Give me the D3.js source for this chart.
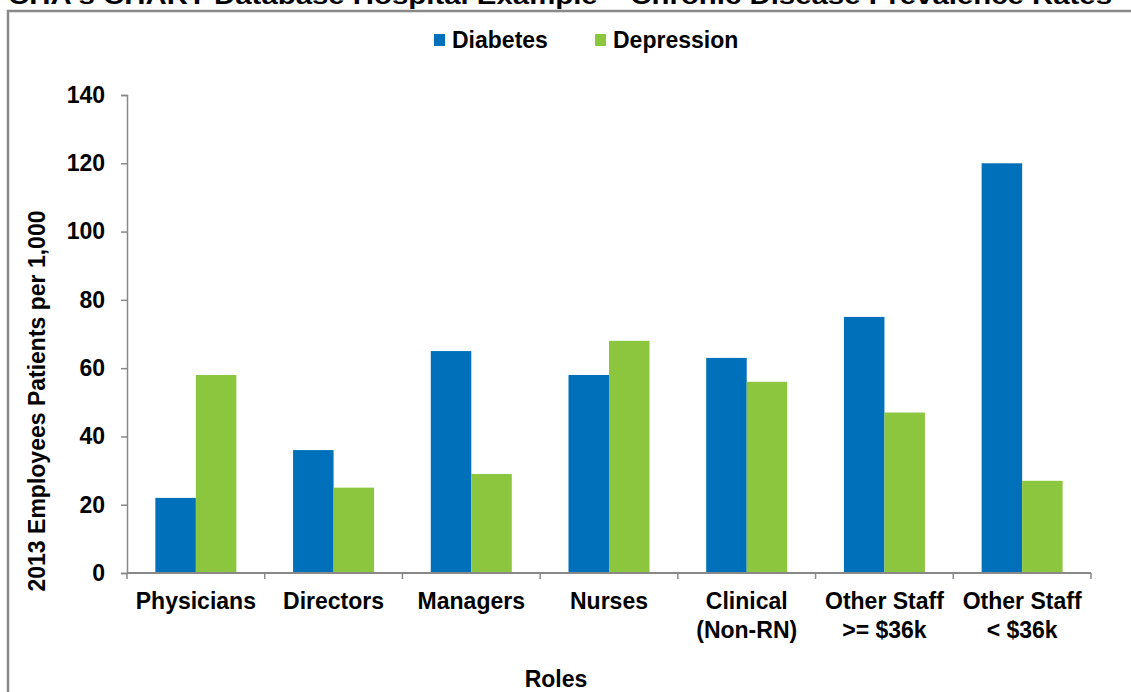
<!DOCTYPE html>
<html>
<head>
<meta charset="utf-8">
<script src="https://cdn.jsdelivr.net/npm/d3@7"></script>
<style>
  body { margin: 0; background: #fff; }
  svg text { font-family: "Liberation Sans", Arial, sans-serif; font-weight: bold; fill: #000; }
</style>
</head>
<body>
<div id="chart"></div>
<script>
// chart values
var roles = ["Physicians", "Directors", "Managers", "Nurses", "Clinical\n(Non-RN)", "Other Staff\n>= $36k", "Other Staff\n< $36k"];
var seriesNames = ["Diabetes", "Depression"];
var diabetes = [22, 36, 65, 58, 63, 75, 120];
var depression = [58, 25, 29, 68, 56, 47, 27];
var yTicks = [0, 20, 40, 60, 80, 100, 120, 140];

var colors = { "Diabetes": "#0070BA", "Depression": "#8CC63F" };

const width = 1131;
const height = 692;
var margin = { left: 127, right: 40, top: 95, bottom: 119 };
var fs = 23;

var svg = d3.select("#chart").append("svg")
  .attr("width", width)
  .attr("height", height);

// frame (only top + left visible in the crop)
svg.append("path")
  .attr("d", "M8,700 L8,11 L1135,11")
  .attr("fill", "none")
  .attr("stroke", "#888")
  .attr("stroke-width", 2.5);

// title, mostly cropped off the top
svg.append("text")
  .attr("x", 8)
  .attr("y", 4)
  .attr("font-size", 24)
  .attr("textLength", 1104)
  .attr("lengthAdjust", "spacingAndGlyphs")
  .text("CHA's CHART Database Hospital Example \u2013 Chronic Disease Prevalence Rates");

var x0 = d3.scaleBand()
  .domain(roles)
  .range([margin.left, width - margin.right])
  .paddingInner(0)
  .paddingOuter(0);

var x1 = d3.scaleBand()
  .domain(seriesNames)
  .range([0, x0.bandwidth()])
  .paddingInner(0)
  .paddingOuter(0.7);

var y = d3.scaleLinear()
  .domain([0, 140])
  .range([height - margin.bottom, margin.top]);

// bars
var groups = svg.append("g").selectAll("g")
  .data(roles)
  .enter().append("g")
  .attr("transform", function (d) { return "translate(" + x0(d) + ",0)"; });

groups.selectAll("rect")
  .data(function (d, i) {
    return [
      { key: "Diabetes", value: diabetes[i] },
      { key: "Depression", value: depression[i] }
    ];
  })
  .enter().append("rect")
  .attr("x", function (d) { return x1(d.key); })
  .attr("width", x1.bandwidth())
  .attr("y", function (d) { return y(d.value); })
  .attr("height", function (d) { return y(0) - y(d.value); })
  .attr("fill", function (d) { return colors[d.key]; });

// y axis
var yAxis = svg.append("g")
  .attr("transform", "translate(" + margin.left + ",0)")
  .call(d3.axisLeft(y).tickValues(yTicks).tickSize(6).tickPadding(16));
yAxis.selectAll("path, line").attr("stroke", "#888").attr("stroke-width", 1.5);
yAxis.selectAll("text").attr("font-size", fs).attr("font-family", "Liberation Sans, Arial, sans-serif").attr("font-weight", "bold").attr("fill", "#000");

// x axis: line with ticks at category boundaries
var xAxisG = svg.append("g");
xAxisG.append("line")
  .attr("x1", margin.left).attr("x2", width - margin.right)
  .attr("y1", y(0)).attr("y2", y(0))
  .attr("stroke", "#888").attr("stroke-width", 2);
var bounds = roles.map(function (d) { return x0(d); }).concat([x0(roles[roles.length - 1]) + x0.bandwidth()]);
xAxisG.selectAll("line.tick")
  .data(bounds)
  .enter().append("line")
  .attr("class", "tick")
  .attr("x1", function (d) { return d; }).attr("x2", function (d) { return d; })
  .attr("y1", y(0)).attr("y2", y(0) + 6)
  .attr("stroke", "#888").attr("stroke-width", 1.5);

var labels = xAxisG.selectAll("text.cat")
  .data(roles)
  .enter().append("text")
  .attr("class", "cat")
  .attr("text-anchor", "middle")
  .attr("font-size", fs)
  .attr("x", function (d) { return x0(d) + x0.bandwidth() / 2; })
  .attr("y", 609);
labels.each(function (d) {
  var lines = d.split("\n");
  var t = d3.select(this);
  lines.forEach(function (l, i) {
    t.append("tspan")
      .attr("x", x0(d) + x0.bandwidth() / 2)
      .attr("dy", i === 0 ? 0 : 29)
      .text(l);
  });
});

// axis titles
svg.append("text")
  .attr("text-anchor", "middle")
  .attr("font-size", fs)
  .attr("transform", "translate(45," + ((margin.top + y(0)) / 2 + 67) + ") rotate(-90)")
  .text("2013 Employees Patients per 1,000");

svg.append("text")
  .attr("text-anchor", "middle")
  .attr("font-size", fs)
  .attr("x", 556)
  .attr("y", 687)
  .text("Roles");

// legend
var legendX = [434, 595];
var legend = svg.append("g").selectAll("g")
  .data(seriesNames)
  .enter().append("g")
  .attr("transform", function (d, i) { return "translate(" + legendX[i] + ",34)"; });
legend.append("rect")
  .attr("width", 11).attr("height", 12)
  .attr("fill", function (d) { return colors[d]; });
legend.append("text")
  .attr("x", 18).attr("y", 14)
  .attr("font-size", fs)
  .text(function (d) { return d; });
</script>
</body>
</html>
